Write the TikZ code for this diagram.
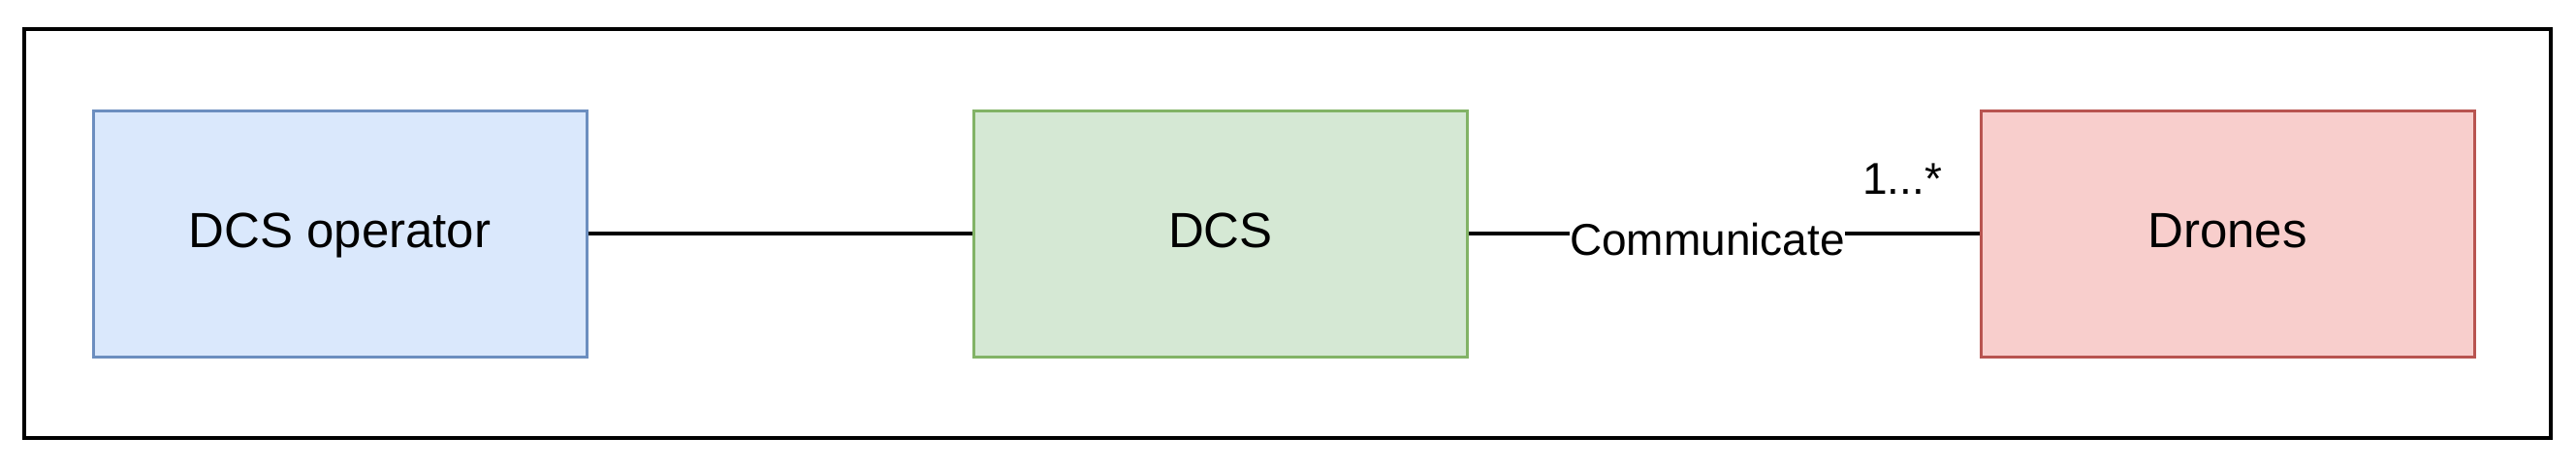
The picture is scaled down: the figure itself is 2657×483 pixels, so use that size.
\documentclass[tikz,border=0pt]{standalone}
\usepackage{fontspec}
\setmainfont{Liberation Sans}
\definecolor{bluestroke}{HTML}{6C8EBF}
\definecolor{bluefill}{HTML}{DAE8FC}
\definecolor{greenstroke}{HTML}{82B366}
\definecolor{greenfill}{HTML}{D5E8D4}
\definecolor{redstroke}{HTML}{B85450}
\definecolor{redfill}{HTML}{F8CECC}
\begin{document}
\begin{tikzpicture}[x=0.25pt,y=-0.25pt,
  boxstyle/.style={draw,line width=0.75pt,minimum width=127.25pt,minimum height=63.5pt,
    inner sep=0pt,font=\fontsize{12.75pt}{15pt}\selectfont,text height=9pt,text depth=2pt},
  lblstyle/.style={font=\fontsize{11.5pt}{13pt}\selectfont,inner sep=0pt},
  conn/.style={line width=0.8pt,black}]
\useasboundingbox (0,0) rectangle (2657,483);
\draw[line width=1pt] (25,30) rectangle (2631,452);
\node[boxstyle,draw=bluestroke,fill=bluefill] (op) at (350.5,241) {DCS operator};
\node[boxstyle,draw=greenstroke,fill=greenfill] (dcs) at (1259,241) {DCS};
\node[boxstyle,draw=redstroke,fill=redfill] (drones) at (2297.5,241) {Drones};
\draw[conn] (op) -- (dcs);
\draw[conn] (dcs) -- (drones);
\node[lblstyle,fill=white,text height=8.5pt,text depth=0.5pt] (comm) at (1761,247) {Communicate};
\node[lblstyle,anchor=base] (mult) at (1962,200) {1...*};
\end{tikzpicture}
\end{document}
